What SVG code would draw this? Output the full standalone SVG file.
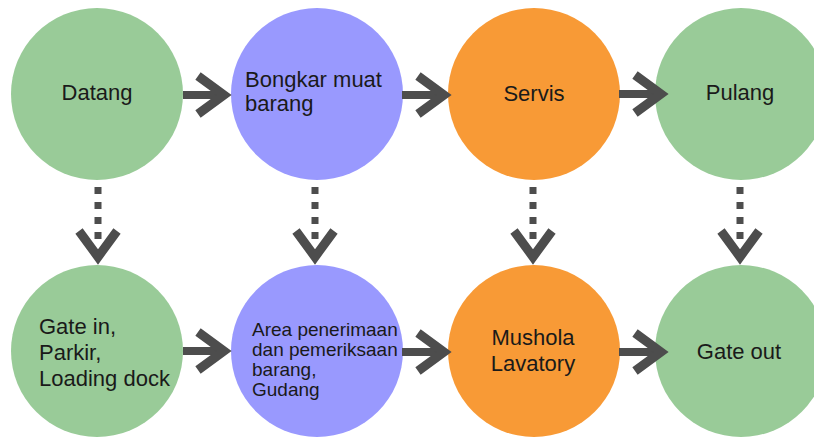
<svg xmlns="http://www.w3.org/2000/svg" width="814" height="437" viewBox="0 0 814 437">
<style>
.t{font-family:"Liberation Sans",Arial,sans-serif;font-size:22px;fill:#1a1a1a}
.s{font-size:19px}
.g{fill:#99cb98}
.p{fill:#9999fe}
.o{fill:#f89a36}
.sh{stroke:#4d4d4d;stroke-width:8;fill:none}
.dt{stroke:#4d4d4d;stroke-width:7;fill:none;stroke-dasharray:7 8}
</style>
<defs>
<polyline id="chev" points="-32,-19 -6,0 -32,19" fill="none" stroke="#4d4d4d" stroke-width="9" stroke-linejoin="miter" stroke-miterlimit="10"/>
</defs>
<rect width="814" height="437" fill="#ffffff"/>
<g id="datang"><circle class="g" cx="97" cy="94" r="86"/><text class="t" x="97" y="100" text-anchor="middle">Datang</text></g>
<g id="bongkar"><circle class="p" cx="317" cy="94" r="86"/><text class="t" x="245" y="87">Bongkar muat</text><text class="t" x="245" y="111">barang</text></g>
<g id="servis"><circle class="o" cx="534" cy="94" r="86"/><text class="t" x="534" y="101" text-anchor="middle">Servis</text></g>
<g id="pulang"><circle class="g" cx="741" cy="94" r="86"/><text class="t" x="740" y="100" text-anchor="middle">Pulang</text></g>
<g id="gatein"><circle class="g" cx="97" cy="351" r="86"/><text class="t" x="39" y="334">Gate in,</text><text class="t" x="39" y="360">Parkir,</text><text class="t" x="39" y="386">Loading dock</text></g>
<g id="area"><circle class="p" cx="317" cy="351" r="86"/><text class="t s" x="252" y="336">Area penerimaan</text><text class="t s" x="252" y="356">dan pemeriksaan</text><text class="t s" x="252" y="376">barang,</text><text class="t s" x="252" y="396">Gudang</text></g>
<g id="mushola"><circle class="o" cx="534" cy="351" r="86"/><text class="t" x="533" y="345" text-anchor="middle">Mushola</text><text class="t" x="533" y="371" text-anchor="middle">Lavatory</text></g>
<g id="gateout"><circle class="g" cx="741" cy="351" r="86"/><text class="t" x="739" y="359" text-anchor="middle">Gate out</text></g>
<g id="connectors">
<line class="sh" x1="183" y1="95" x2="226" y2="95"/><use href="#chev" transform="translate(230,95)"/>
<line class="sh" x1="402" y1="95" x2="446" y2="95"/><use href="#chev" transform="translate(450,95)"/>
<line class="sh" x1="619" y1="94" x2="662" y2="94"/><use href="#chev" transform="translate(667,94)"/>
<line class="sh" x1="183" y1="351" x2="226" y2="351"/><use href="#chev" transform="translate(230,351)"/>
<line class="sh" x1="402" y1="352" x2="446" y2="352"/><use href="#chev" transform="translate(450,352)"/>
<line class="sh" x1="619" y1="352" x2="662" y2="352"/><use href="#chev" transform="translate(667,352)"/>
<line class="dt" x1="98" y1="187" x2="98" y2="241"/><use href="#chev" transform="translate(98,263) rotate(90)"/>
<line class="dt" x1="315" y1="187" x2="315" y2="241"/><use href="#chev" transform="translate(315,263) rotate(90)"/>
<line class="dt" x1="533" y1="187" x2="533" y2="241"/><use href="#chev" transform="translate(533,263) rotate(90)"/>
<line class="dt" x1="740" y1="187" x2="740" y2="241"/><use href="#chev" transform="translate(740,263) rotate(90)"/>
</g>
</svg>
